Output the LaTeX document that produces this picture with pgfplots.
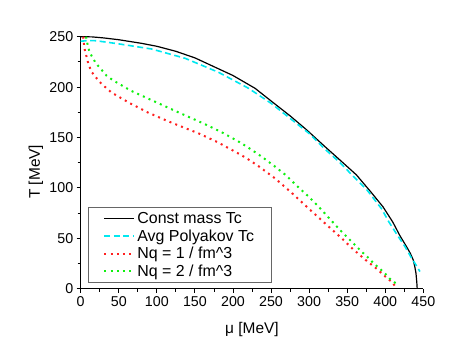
\documentclass[border=0pt]{standalone}
\usepackage{fontspec}
\setmainfont{Liberation Sans}
\usepackage{pgfplots}
\pgfplotsset{compat=1.18}
\definecolor{cyanl}{HTML}{00E8F0}
\definecolor{redd}{HTML}{FF2020}
\definecolor{grnd}{HTML}{10F010}
\definecolor{boxc}{HTML}{666666}
\newcommand{\lh}{\vphantom{Ay}}

\begin{document}
\begin{tikzpicture}
\path[use as bounding box] (-80.7bp,-73.3bp) rectangle (382.3bp,288.7bp);
\begin{axis}[
  scale only axis, width=342.6bp, height=252bp,
  xmin=0, xmax=450, ymin=0, ymax=250,
  axis x line*=bottom, axis y line*=left,
  axis line style={line width=1bp},
  xtick={0,50,...,450}, ytick={0,50,...,250},
  minor x tick num=1, minor y tick num=1,
  tick align=outside,
  major tick length=4bp, minor tick length=3bp,
  tick style={line width=0.8bp, black},
  /pgf/number format/assume math mode=true,
  ticklabel style={font=\fontsize{14.3}{17}\selectfont},
  xlabel={μ [MeV]}, ylabel={T [MeV]},
  label style={font=\fontsize{15.5}{18}\selectfont},
  xlabel style={at={(axis description cs:0.5,-0.177)}, anchor=base},
  ylabel style={at={(axis description cs:-0.1305,0.464)}, anchor=center},
  clip=false,
  legend cell align=left,
  legend style={at={(axis description cs:0.0213,0.0226)}, anchor=south west,
    draw=boxc, line width=0.8bp, font=\fontsize{16}{18}\selectfont,
    inner xsep=15bp, inner ysep=3bp, row sep=0.5bp},
  legend image code/.code={\draw[#1] (0bp,0bp) -- (30bp,0bp);},
  dots/.style={line width=2bp, dash pattern=on 2bp off 4.2bp},
]
\addplot[black, line width=1.2bp] coordinates {
(0,250) (15,249.8) (30,248.8) (50,247) (80,243.4) (100,240.5) (125,235.5)
(150,229) (170,222) (200,211.5) (229,198.8) (253,184.5) (275,171.5)
(297,157.4) (320,141.5) (340,128) (362,113) (380,97) (397,81.3) (410,66)
(419,53) (428,41.7) (433,35) (436.8,28.5) (438.8,22) (440.4,15.3)
(441.4,7) (442,0)};
\addlegendentry{\lh Const mass Tc}
\addplot[cyanl, line width=1.6bp, dash pattern=on 6bp off 3.5bp] coordinates {
(0,245.5) (10,246.2) (20,246) (49,243) (93,237.8) (137,228.6) (181,214.7)
(220,199) (250,184) (280,166) (300,154) (320,139) (340,125.5) (360,110)
(376,98) (395,79.5) (405,66) (416,53) (426,41.7) (434.7,30.2) (440,24)
(445.6,17)};
\addlegendentry{\lh Avg Polyakov Tc}
\addplot[redd, dots] coordinates {
(3.4,250) (4.4,241.8) (5.6,236) (7.9,229.6) (10,223) (14.4,215) (21,208.7)
(27.6,203) (40.7,194.5) (64.7,184) (88.8,174.6) (113,166.7) (130.4,161.4)
(154.5,154.2) (178.6,145.8) (202.7,136) (218,129.4) (233.3,121.7)
(255.2,109.5) (277,95.2) (299,79.8) (320.8,64.9) (342.8,50) (358,39)
(373.4,29) (388.8,19.8) (402.7,10.3) (409.8,6) (415,0)};
\addlegendentry{\lh Nq = 1 / fm\^{}3}
\addplot[grnd, dots] coordinates {
(7,250) (8.7,243.4) (10.9,236.8) (14.4,230.8) (20,223.6) (27.6,217)
(34,211.3) (42,207) (50,203.4) (66,196.4) (97.6,185.5) (128.2,175)
(161,164) (185.2,155.2) (209.2,145.2) (224.6,137.8) (239,130.3)
(254.3,121.7) (269.2,112.8) (283.7,102.2) (298.5,92) (312.6,81.3)
(326.5,69.8) (340.6,58.2) (354.6,47.6) (361.6,42.4) (369,36.7)
(376.4,31.7) (383.5,26.2) (391.4,20.8) (398.7,15.9) (405.3,10.3)
(412.8,6) (414.5,2)};
\addlegendentry{\lh Nq = 2 / fm\^{}3}
\end{axis}
\end{tikzpicture}
\end{document}
